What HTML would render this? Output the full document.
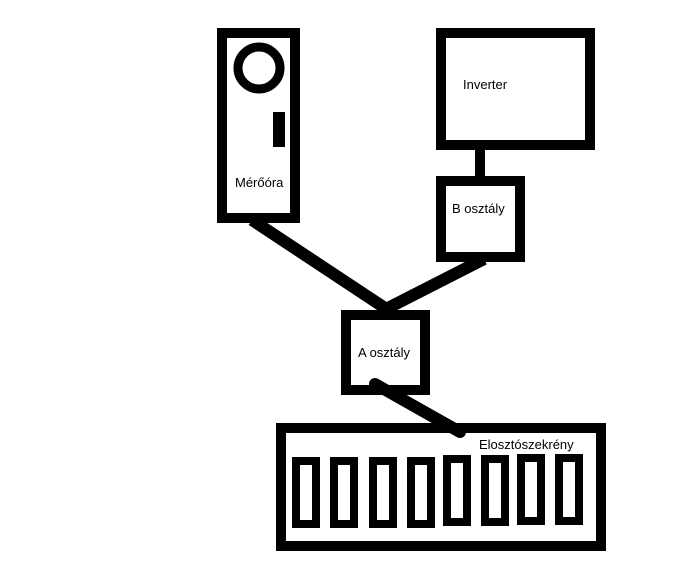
<!DOCTYPE html>
<html><head><style>body{margin:0;background:#fff}svg{display:block}text{font-family:"Liberation Sans",sans-serif;font-size:13px;fill:#000}</style></head><body>
<svg width="696" height="564" xmlns="http://www.w3.org/2000/svg">
<g fill="none" stroke="#000" stroke-width="10">
<rect x="222" y="33" width="73" height="185"/>
<circle cx="259" cy="68" r="21" stroke-width="9"/>
<rect x="441" y="33" width="149" height="112"/>
<rect x="441" y="181" width="79" height="76"/>
<rect x="346" y="315" width="79" height="75"/>
<rect x="281" y="428" width="320" height="118"/>
</g>
<rect x="273" y="112" width="12" height="35" fill="#000"/>
<rect x="475" y="145" width="10" height="36" fill="#000"/>
<g stroke="#000" stroke-width="12" stroke-linecap="butt">
<line x1="252" y1="220" x2="388" y2="310"/>
<line x1="484" y1="259" x2="384" y2="310"/>
<line x1="375" y1="384" x2="460" y2="432" stroke-linecap="round"/>
</g>
<g fill="none" stroke="#000" stroke-width="8">
<rect x="296" y="461" width="20" height="63"/>
<rect x="334" y="461" width="20" height="63"/>
<rect x="373" y="461" width="20" height="63"/>
<rect x="411" y="461" width="20" height="63"/>
<rect x="447" y="459" width="20" height="63"/>
<rect x="485" y="459" width="20" height="63"/>
<rect x="521" y="458" width="20" height="63"/>
<rect x="559" y="458" width="20" height="63"/>
</g>
<text x="235" y="187">Mérőóra</text>
<text x="463" y="89">Inverter</text>
<text x="452" y="213">B osztály</text>
<text x="358" y="357">A osztály</text>
<text x="479" y="449">Elosztószekrény</text>
</svg>
</body></html>
